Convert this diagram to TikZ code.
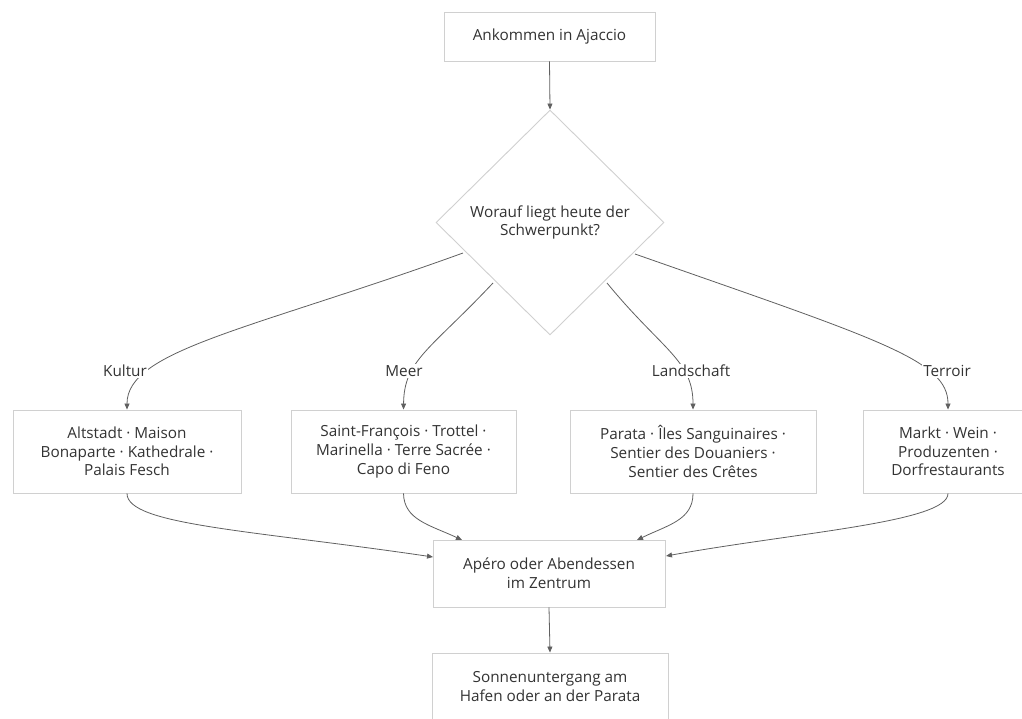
\documentclass[tikz,border=0pt]{standalone}
\usepackage{fontspec}
\setmainfont{Open Sans}
\usetikzlibrary{shapes.geometric,arrows.meta}
\definecolor{edgec}{HTML}{606060}
\definecolor{boxc}{HTML}{D0D0D0}
\definecolor{txtc}{HTML}{333333}
\begin{document}
\begin{tikzpicture}[x=1pt,y=-1pt,
  font=\fontsize{15.3}{18.6}\selectfont, text=txtc,
  box/.style={draw=boxc, fill=white, line width=0.9pt, align=center, inner sep=0pt},
  dia/.style={draw=boxc, fill=white, line width=0.9pt, align=center, inner sep=0pt,
    diamond, minimum width=228pt, minimum height=225pt},
  conn/.style={draw=edgec, line width=0.8pt, -{Triangle[length=6pt,width=5pt]}},
  lab/.style={fill=white, inner sep=1pt}]
\useasboundingbox (0,0) rectangle (1022,719);
\node[box, minimum width=211pt, minimum height=49pt] (a) at (549.5,36.5) {Ankommen in Ajaccio};
\node[dia] (d) at (550,222.5) {Worauf liegt heute der\\Schwerpunkt?};
\node[box, minimum width=228pt, minimum height=83pt] (k) at (127,451.5) {Altstadt · Maison\\Bonaparte · Kathedrale ·\\Palais Fesch};
\node[box, minimum width=225pt, minimum height=83pt] (m) at (403.5,451.5) {Saint-François · Trottel ·\\Marinella · Terre Sacrée ·\\Capo di Feno};
\node[box, minimum width=246pt, minimum height=83pt] (l) at (693,451.5) {Parata · Îles Sanguinaires ·\\Sentier des Douaniers ·\\Sentier des Crêtes};
\node[box, minimum width=170pt, minimum height=83pt] (t) at (948,451.5) {Markt · Wein ·\\Produzenten ·\\Dorfrestaurants};
\node[box, minimum width=232pt, minimum height=67pt] (p) at (549,573.5) {Apéro oder Abendessen\\im Zentrum};
\node[box, minimum width=236pt, minimum height=67pt] (s) at (550,686.5) {Sonnenuntergang am\\Hafen oder an der Parata};

\coordinate (dk) at (463,253);
\coordinate (dm) at (493,283);
\coordinate (dl) at (607,283);
\coordinate (dt) at (635,254);
\coordinate (pk) at (433,557);
\coordinate (pm) at (462,540);
\coordinate (pl) at (637,540);
\coordinate (pt) at (666,556);

\draw[conn] (a.south) -- (d.north);
\draw[conn] (dk) .. controls (250,330) and (127,350) .. (k.north);
\draw[conn] (dm) .. controls (430,350) and (404,360) .. (m.north);
\draw[conn] (dl) .. controls (662,350) and (693,360) .. (l.north);
\draw[conn] (dt) .. controls (880,340) and (948,360) .. (t.north);
\draw[conn] (k.south) .. controls (127,525) and (250,530) .. (pk);
\draw[conn] (m.south) .. controls (404,520) and (430,525) .. (pm);
\draw[conn] (l.south) .. controls (693,520) and (668,525) .. (pl);
\draw[conn] (t.south) .. controls (948,522) and (800,532) .. (pt);
\draw[conn] (p.south) -- (s.north);

\node[lab] (lk) at (125,371) {Kultur};
\node[lab] (lm) at (404,371) {Meer};
\node[lab] (ll) at (691,371) {Landschaft};
\node[lab] (lt) at (947,371) {Terroir};
\end{tikzpicture}
\end{document}
